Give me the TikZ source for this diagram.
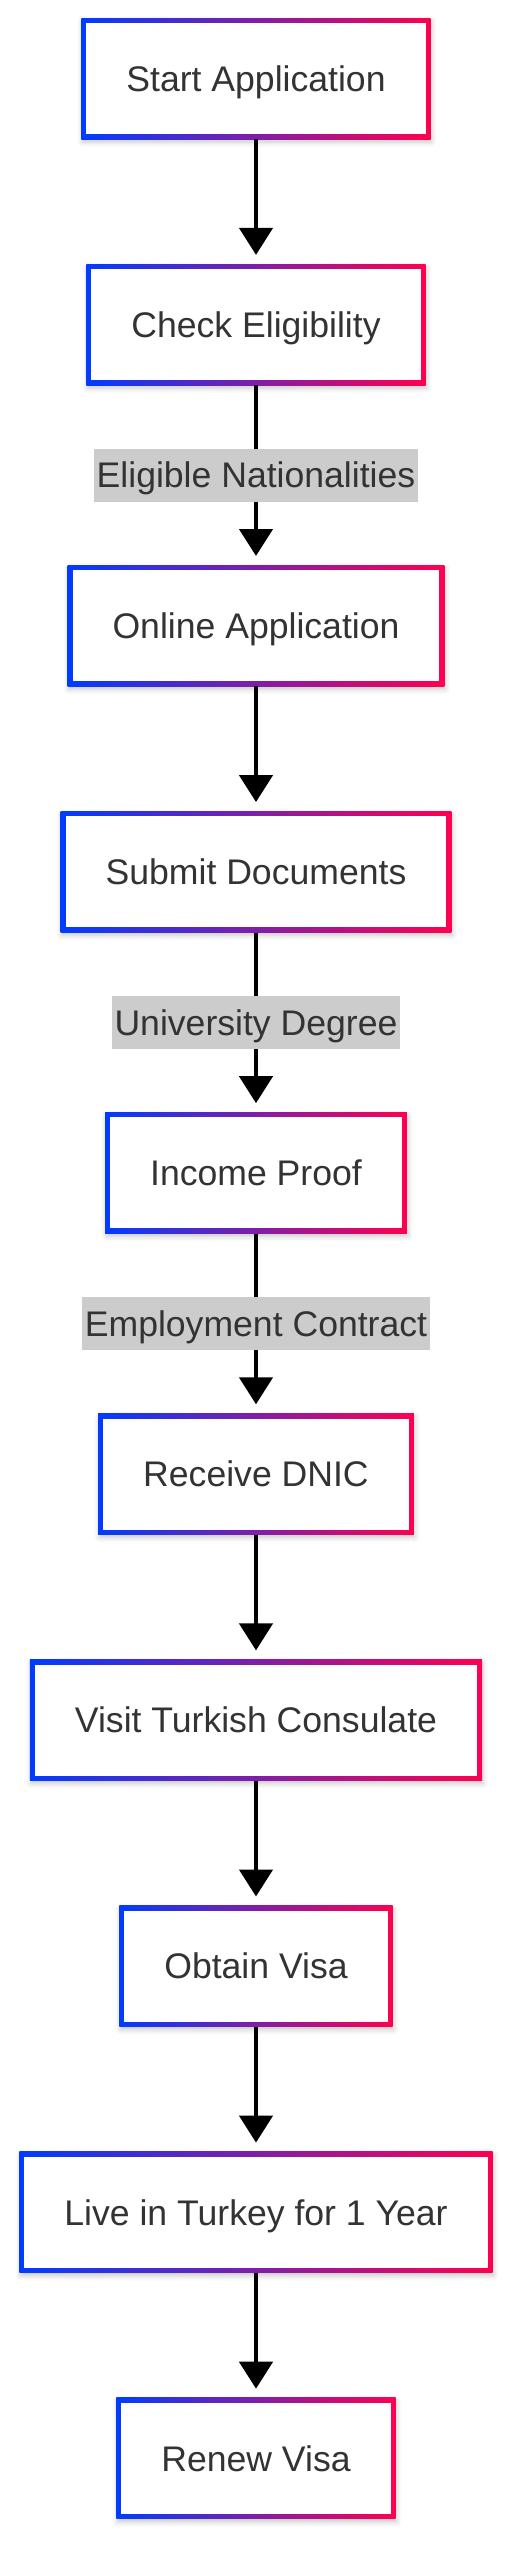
\documentclass[tikz,border=0pt]{standalone}
\usepackage{fontspec}
\setmainfont{Liberation Sans}
\usepackage{xcolor}
\usetikzlibrary{arrows.meta, positioning, shadows.blur}
\definecolor{edgeBlue}{RGB}{0,60,255}
\definecolor{edgeRed}{RGB}{255,0,80}
\definecolor{txtGray}{RGB}{51,51,51}

\begin{document}
\begin{tikzpicture}[x=1pt, y=1pt,
  stepbox/.style={shade, shading=axis, left color=edgeBlue, right color=edgeRed,
    minimum height=121pt, inner xsep=45pt, inner ysep=0pt,
    text height=25.5pt, text depth=0pt, text=txtGray,
    font=\fontsize{35.6pt}{40pt}\selectfont,
    blur shadow={shadow xshift=1pt, shadow yshift=-3pt, shadow blur radius=5pt, shadow opacity=22},
    path picture={\fill[white] ([shift={(5pt,5pt)}]path picture bounding box.south west)
      rectangle ([shift={(-5pt,-5pt)}]path picture bounding box.north east);}},
  lbl/.style={fill=gray!40, minimum height=53pt, inner xsep=2.5pt, inner ysep=0pt,
    text height=25.5pt, text depth=0pt, text=txtGray,
    font=\fontsize{35.6pt}{40pt}\selectfont},
  flow/.style={-{Triangle[width=33pt, length=27pt]}, line width=4.5pt, shorten >=9pt}]
%%── Page frame ───────────────────────────────────────────
\useasboundingbox (0,0) rectangle (518,-2560);
%%── Steps ────────────────────────────────────────────────
\node[stepbox] (start) at (256,-78.5) {Start Application};
\node[stepbox, below=124.7pt of start]   (check)   {Check Eligibility};
\node[stepbox, below=179.7pt of check]   (online)  {Online Application};
\node[stepbox, below=124.7pt of online]  (submit)  {Submit Documents};
\node[stepbox, below=179.7pt of submit]  (income)  {Income Proof};
\node[stepbox, below=179.7pt of income]  (dnic)    {Receive DNIC};
\node[stepbox, below=124.7pt of dnic]    (consul)  {Visit Turkish Consulate};
\node[stepbox, below=124.7pt of consul]  (visa)    {Obtain Visa};
\node[stepbox, below=124.7pt of visa]    (live)    {Live in Turkey for 1 Year};
\node[stepbox, below=124.7pt of live]    (renew)   {Renew Visa};
%%── Connectors ───────────────────────────────────────────
\draw[flow] (start) -- (check);
\draw[flow] (check) -- node[lbl] (natl) {Eligible Nationalities} (online);
\draw[flow] (online) -- (submit);
\draw[flow] (submit) -- node[lbl] (degree) {University Degree} (income);
\draw[flow] (income) -- node[lbl] (contract) {Employment Contract} (dnic);
\draw[flow] (dnic) -- (consul);
\draw[flow] (consul) -- (visa);
\draw[flow] (visa) -- (live);
\draw[flow] (live) -- (renew);
\end{tikzpicture}
\end{document}
